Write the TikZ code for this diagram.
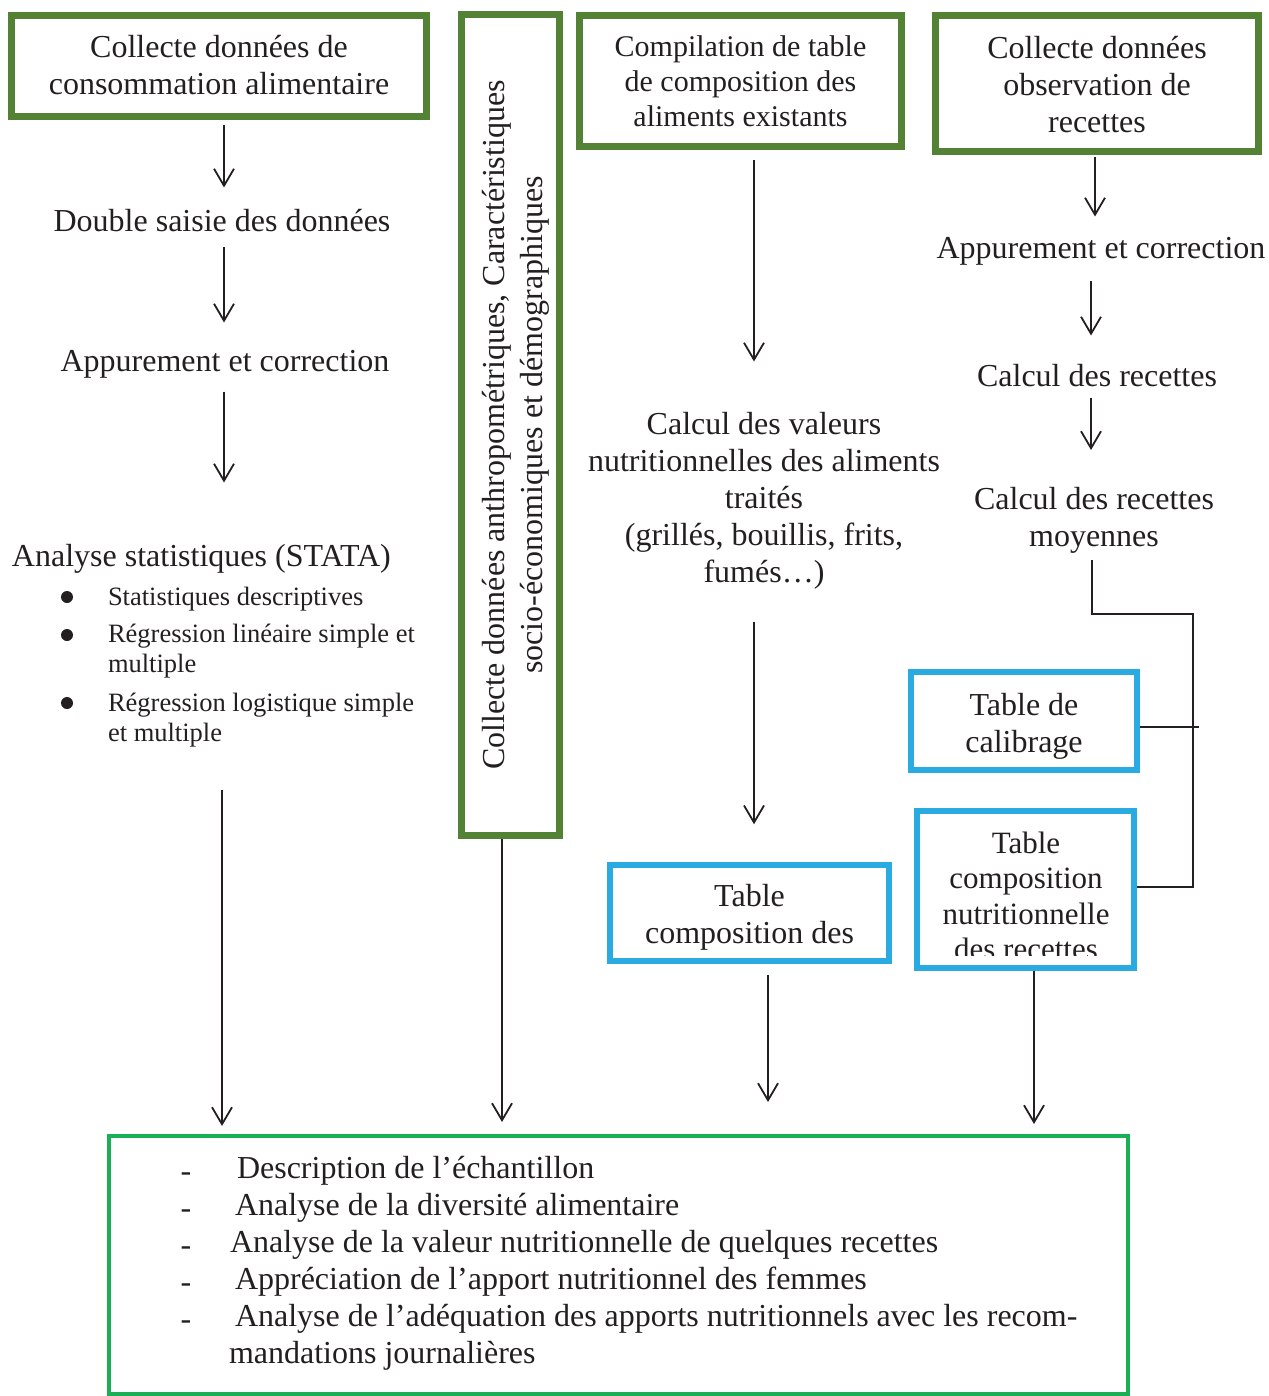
\documentclass[tikz,border=0pt]{standalone}
\usepackage{fontspec}
\setmainfont{Liberation Serif}
\usetikzlibrary{arrows.meta,calc}
\definecolor{topgreen}{RGB}{84,130,53}
\definecolor{botgreen}{RGB}{26,175,84}
\definecolor{tblue}{RGB}{41,171,226}
\definecolor{ink}{RGB}{35,31,32}
\newcommand\fA{\fontsize{32}{37}\selectfont}
\newcommand\fB{\fontsize{30}{35}\selectfont}
\newcommand\fC{\fontsize{26.5}{30}\selectfont}
\newcommand\up[1]{\rule{0pt}{#1pt}}
\tikzset{
  gbox/.style={draw=topgreen, line width=7pt, fill=white, align=center, inner sep=0pt, text=ink},
  bbox/.style={draw=tblue, line width=5.5pt, fill=white, align=center, inner sep=0pt, text=ink},
  fbox/.style={draw=botgreen, line width=4pt, inner sep=0pt},
  txt/.style={align=center, inner sep=0pt, outer sep=0pt, font=\fA, text=ink},
  ltxt/.style={align=left, inner sep=0pt, outer sep=0pt, anchor=west, text=ink},
  arr/.style={draw=ink, line width=1.8pt, -{Straight Barb[length=17pt,width=20pt,line width=1.8pt]}},
  conn/.style={draw=ink, line width=1.3pt},
}
\begin{document}
\begin{tikzpicture}[x=1pt,y=-1pt]
\useasboundingbox (0,0) rectangle (1268,1396);
% column x positions
\coordinate (c1) at (224,0);
\coordinate (c1b) at (222,0);
\coordinate (cv) at (502,0);
\coordinate (c3) at (754,0);
\coordinate (c3b) at (768,0);
\coordinate (c4a) at (1095,0);
\coordinate (c4b) at (1091,0);
\coordinate (c4c) at (1092,0);
\coordinate (c4d) at (1034,0);
\coordinate (bend) at (1193,614);

% top boxes
\node[gbox, minimum width=415, minimum height=101, font=\fA] (b1) at (219,66)
  {\up{31.9}Collecte données de\\consommation alimentaire\strut};
\node[gbox, minimum width=98, minimum height=820] (vb) at (510,425) {};
\node[txt, rotate=90] (vbt) at (516,425)
  {\strut Collecte données anthropométriques, Caractéristiques\\[1pt]socio-économiques et démographiques\strut};
\node[gbox, minimum width=322, minimum height=131, font=\fB] (b3) at (740.5,81)
  {\up{32.5}Compilation de table\\de composition des\\aliments existants\strut};
\node[gbox, minimum width=323, minimum height=136, font=\fA] (b4) at (1097,83.5)
  {\up{34.9}Collecte données\\observation de\\recettes\strut};

% column 1
\node[txt] (dbl) at (222,224) {\strut Double saisie des données\strut};
\node[txt] (app1) at (225,364) {\strut Appurement et correction\strut};
\node[txt, anchor=west] (sta) at (12,559) {\strut Analyse statistiques (STATA)\strut};
\fill[ink] (67,597) circle (6);
\fill[ink] (67,635) circle (6);
\fill[ink] (67,703) circle (6);
\node[ltxt, font=\fC] (it1) at (108,599) {\strut Statistiques descriptives\strut};
\node[ltxt, font=\fC, anchor=north west] (it2) at (108,621) {\strut Régression linéaire simple et\\multiple\strut};
\node[ltxt, font=\fC, anchor=north west] (it3) at (108,690) {\strut Régression logistique simple\\et multiple\strut};

% column 3
\node[txt] (calc) at (764,501)
  {\strut Calcul des valeurs\\nutritionnelles des aliments\\traités\\(grillés, bouillis, frits,\\fumés…)\strut};
\node[bbox, minimum width=279, minimum height=96, font=\fA] (tcd) at (749.5,913)
  {\up{35.9}Table\\composition des\strut};

% column 4
\node[txt] (app2) at (1101,251) {\strut Appurement et correction\strut};
\node[txt] (cr) at (1097,379) {\strut Calcul des recettes\strut};
\node[txt] (moy) at (1094,521) {\strut Calcul des recettes\\moyennes\strut};
\node[bbox, minimum width=226, minimum height=98, font=\fA] (cal) at (1024,721)
  {\up{37.9}Table de\\calibrage\strut};
\node[bbox, minimum width=217, minimum height=157] (rec) at (1025.5,889.5) {};
\begin{scope}
  \clip (900,800) rectangle (1150,955);
  \node[txt, font=\fontsize{31}{35.3}\selectfont] (rect) at (1026,899.5)
    {\strut Table\\composition\\nutritionnelle\\des recettes\strut};
\end{scope}

% final box
\node[fbox, minimum width=1019, minimum height=258] (fin) at (618.5,1265) {};
\foreach \yy in {1168,1205,1242,1279,1316} {
  \node[txt] at (186,\yy+9) {-};
}
\node[ltxt, font=\fA] (f1) at (237,1171) {\strut Description de l’échantillon\strut};
\node[ltxt, font=\fA] (f2) at (235,1208) {\strut Analyse de la diversité alimentaire\strut};
\node[ltxt, font=\fA] (f3) at (230,1245) {\strut Analyse de la valeur nutritionnelle de quelques recettes\strut};
\node[ltxt, font=\fA] (f4) at (235,1282) {\strut Appréciation de l’apport nutritionnel des femmes\strut};
\node[ltxt, font=\fA] (f5) at (235,1319) {\strut Analyse de l’adéquation des apports nutritionnels avec les recom-\strut};
\node[ltxt, font=\fA] (f6) at (229,1356) {\strut mandations journalières\strut};

% arrows column 1
\draw[arr, shorten <=5pt, shorten >=18pt] (b1.south -| c1) -- (dbl.north -| c1);
\draw[arr, shorten <=5pt, shorten >=23pt] (dbl.south -| c1) -- (app1.north -| c1);
\draw[arr, shorten <=9pt, shorten >=58pt] (app1.south -| c1) -- (sta.north -| c1);
\draw[arr, shorten <=40pt, shorten >=8pt] (it3.south -| c1b) -- (fin.north -| c1b);
% vertical box
\draw[arr, shorten >=12pt] (vb.south -| cv) -- (fin.north -| cv);
% column 3
\draw[arr, shorten <=10pt, shorten >=47pt] (b3.south -| c3) -- (calc.north -| c3);
\draw[arr, shorten <=28pt, shorten >=38pt] (calc.south -| c3) -- (tcd.north -| c3);
\draw[arr, shorten <=11pt, shorten >=32pt] (tcd.south -| c3b) -- (fin.north -| c3b);
% column 4
\draw[arr, shorten <=2pt, shorten >=16pt] (b4.south -| c4a) -- (app2.north -| c4a);
\draw[arr, shorten <=12pt, shorten >=25pt] (app2.south -| c4b) -- (cr.north -| c4b);
\draw[arr, shorten >=34pt] (cr.south -| c4b) -- (moy.north -| c4b);
\draw[arr, shorten >=10pt] (rec.south -| c4d) -- (fin.north -| c4d);
% right-side connectors
\draw[conn, shorten <=2pt] (moy.south -| c4c) |- (bend) |- ([yshift=2.5pt]rec.east);
\draw[conn] ([yshift=-6pt]cal.east) -- ++(59,0);
\end{tikzpicture}
\end{document}
